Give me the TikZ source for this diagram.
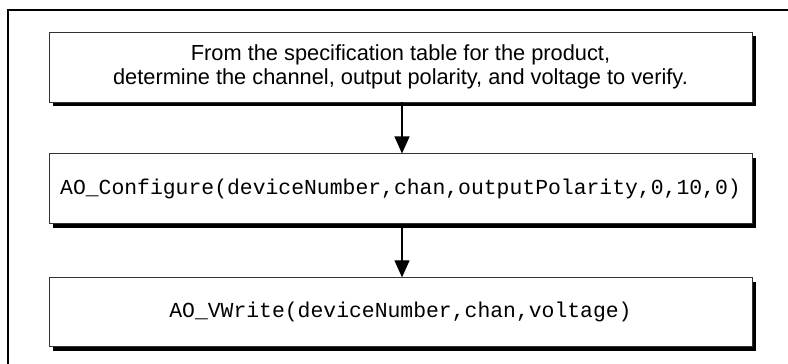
\documentclass[tikz,border=0pt]{standalone}
\usepackage{fontspec}
\setmainfont{Liberation Sans}
\setmonofont{Liberation Mono}
\usepackage{tikz}
\usetikzlibrary{calc}
\usetikzlibrary{arrows.meta}
\usetikzlibrary{positioning}
\usetikzlibrary{shadows}
\tikzset{>=latex}
\tikzstyle{stepbox} = [rectangle, draw=black!80, line width=0.9pt, fill=white, minimum width=703pt, minimum height=70pt, inner sep=0, align=center, font=\fontsize{21.8}{24}\selectfont, drop shadow={shadow xshift=4pt, shadow yshift=-4pt, fill=black, opacity=1}]
\tikzstyle{codebox} = [stepbox, font=\fontsize{21.4}{24}\selectfont\ttfamily]
\tikzstyle{flow} = [-{Triangle[length=17pt, width=15pt]}, line width=1.2pt]

\begin{document}
\begin{tikzpicture}[x=1pt, y=1pt, node distance=51pt]
\useasboundingbox (0,0) rectangle (788,364);
% outer frame, open at right and bottom
\draw [line width=2pt] (8,0) -- (8,353.5) -- (788,353.5);
\node [stepbox] (spec) at (400.5, 297) {From the specification table for the product,\\determine the channel, output polarity, and voltage to verify.};
\node [codebox, below=of spec] (config) {AO\_Configure(deviceNumber,chan,outputPolarity,0,10,0)};
\node [codebox, below=53pt of config, minimum height=69pt] (write) {AO\_VWrite(deviceNumber,chan,voltage)};
\draw [flow] ([xshift=1.5pt]spec.south) -- ([xshift=1.5pt]config.north);
\draw [flow] ([xshift=1.5pt]config.south) -- ([xshift=1.5pt]write.north);
\end{tikzpicture}
\end{document}
